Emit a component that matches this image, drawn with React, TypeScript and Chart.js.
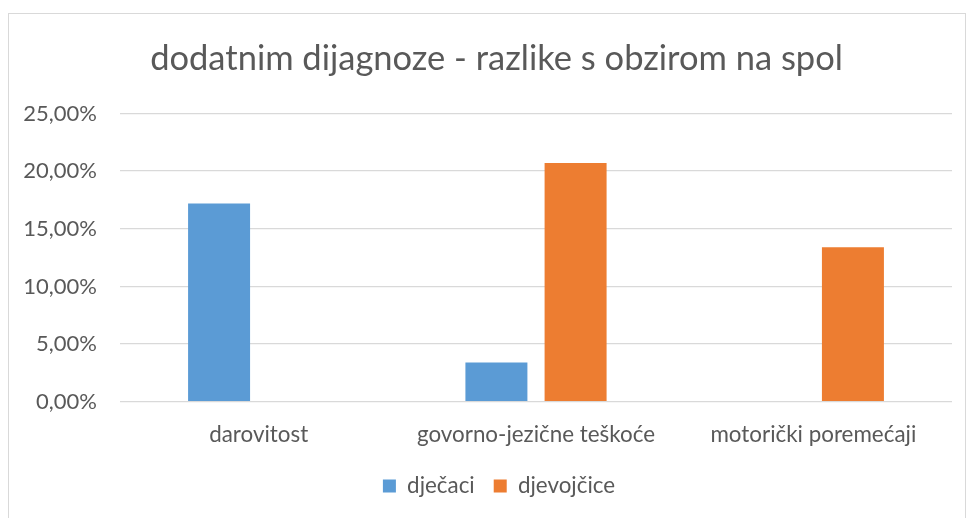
import React, { useEffect, useRef } from "react";
import { Chart, registerables } from "chart.js";

Chart.register(...registerables);

const titleText = "dodatnim dijagnoze - razlike s obzirom na spol";
const categories = ["darovitost", "govorno-jezične teškoće", "motorički poremećaji"];
const seriesNames = ["dječaci", "djevojčice"];
const djecaci = [17.2, 3.4, 0];
const djevojcice = [0, 20.7, 13.4];
const yTickMin = 0;
const yTickMax = 25;
const yTickStep = 5;

const FONT = "Lato, 'Open Sans', sans-serif";
const TEXT = "#595959";

// Excel centres title and legend on the chart frame; nudge the Chart.js blocks to match.
const centerShift = {
  id: "centerShift",
  afterLayout(chart: any) {
    const t = chart.titleBlock;
    if (t) { t.left += 20.5; t.right += 20.5; }
    const l = chart.legend;
    if (l) { l.left += 23; l.right += 23; }
  },
};

export default function App() {
  const ref = useRef<HTMLCanvasElement | null>(null);
  useEffect(() => {
    if (!ref.current) return;
    const chart = new Chart(ref.current, {
      type: "bar",
      data: {
        labels: categories,
        datasets: [
          { label: seriesNames[0], data: djecaci, backgroundColor: "#5B9BD5", borderWidth: 0 },
          { label: seriesNames[1], data: djevojcice, backgroundColor: "#ED7D31", borderWidth: 0 },
        ],
      },
      plugins: [centerShift],
      options: {
        animation: false,
        responsive: false,
        maintainAspectRatio: false,
        devicePixelRatio: 1,
        layout: { padding: { left: 0, right: 15, top: 0, bottom: 10.8 } },
        datasets: { bar: { categoryPercentage: 0.571, barPercentage: 0.783 } },
        plugins: {
          title: {
            display: true,
            text: titleText,
            color: TEXT,
            font: { family: FONT, size: 34.5, weight: "normal", lineHeight: 1.2 },
            padding: { top: 38, bottom: 34.1 },
          },
          legend: {
            display: true,
            position: "bottom",
            labels: {
              color: TEXT,
              font: { family: FONT, size: 22.4 },
              boxWidth: 13,
              boxHeight: 13,
              padding: 19,
            },
          },
          tooltip: { enabled: false },
        },
        scales: {
          x: {
            grid: { display: false },
            border: { display: false },
            ticks: { color: TEXT, font: { family: FONT, size: 22.4 }, padding: 12, maxRotation: 0 },
            afterFit: (s: any) => { s.height = 54.1; },
          },
          y: {
            min: yTickMin,
            max: yTickMax,
            grid: { color: "#d9d9d9", lineWidth: 1.3, drawTicks: false },
            border: { display: false },
            ticks: {
              stepSize: yTickStep,
              color: TEXT,
              font: { family: FONT, size: 22 },
              padding: 23,
              callback: (v: any) => Number(v).toFixed(2).replace(".", ",") + "%",
            },
            afterFit: (s: any) => { s.width = 120; },
          },
        },
      },
    });
    return () => chart.destroy();
  }, []);
  return (
    <div style={{ position: "fixed", left: 0, top: 0, width: 967, height: 518, overflow: "hidden", background: "#fff" }}>
      <div
        style={{
          position: "absolute",
          left: 8,
          top: 13,
          width: 958,
          height: 600,
          boxSizing: "border-box",
          border: "1px solid #d9d9d9",
        }}
      />
      <canvas ref={ref} width={967} height={518} style={{ position: "absolute", left: 0, top: 0 }} />
    </div>
  );
}
